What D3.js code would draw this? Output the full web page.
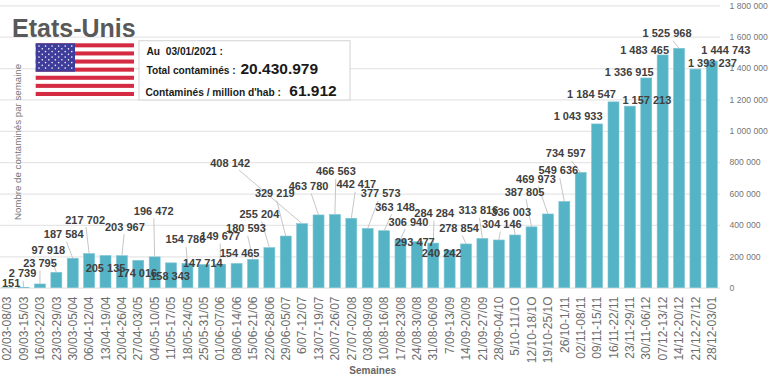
<!DOCTYPE html>
<html lang="fr">
<head>
    <meta charset="UTF-8">
    <title>Etats-Unis - contaminés par semaine</title>
    <script src="https://d3js.org/d3.v7.min.js"></script>
    <style>
        body { margin: 0; background: #fff; }
        svg { display: block; font-family: "Liberation Sans", Arial, sans-serif; }
        .grid line { stroke: #e6e6e6; stroke-width: 1.2; }
        .grid path { display: none; }
        .grid text { font-size: 8.6px; fill: #757575; }
        .xaxis path, .xaxis line { display: none; }
        .xaxis text { font-size: 12px; fill: #6e6e6e; }
        .bar { fill: #55b3c6; stroke: #7cc5d4; stroke-width: 0.6; }
        .leader { stroke: #bfbfbf; stroke-width: 0.9; fill: none; }
        .value { font-size: 11px; font-weight: bold; fill: #404040; text-anchor: middle; }
        .info { font-weight: bold; fill: #1a1a1a; }
    </style>
</head>
<body>
    <svg id="chart" width="768" height="378"></svg>
    <script>
        const weeks = ["02/03-08/03", "09/03-15/03", "16/03-22/03", "23/03-29/03", "30/03-05/04", "06/04-12/04",
            "13/04-19/04", "20/04-26/04", "27/04-03/05", "04/05-10/05", "11/05-17/05", "18/05-24/05", "25/05-31/05",
            "01/06-07/06", "08/06-14/06", "15/06-21/06", "22/06-28/06", "29/06-05/07", "6/07-12/07", "13/07-19/07",
            "20/07-26/07", "27/07-02/08", "03/08-09/08", "10/08-16/08", "17/08-23/08", "24/08-30/08", "31/08-06/09",
            "7/09-13/09", "14/09-20/09", "21/09-27/09", "28/09-04/10", "5/10-11/1O", "12/10-18/1O", "19/10-25/1O",
            "26/10-1/11", "02/11-08/11", "09/11-15/11", "16/11-22/11", "23/11-29/11", "30/11-06/12", "07/12-13/12",
            "14/12-20/12", "21/12-27/12", "28/12-03/01"];

        const cases = [151, 2739, 23795, 97918, 187584, 217702, 205135, 203967, 174016, 196472, 158343, 154786,
            147714, 149677, 154465, 180593, 255204, 329219, 408142, 463780, 466563, 442417, 377573, 363148, 306940,
            293477, 284284, 240242, 278854, 313816, 304146, 336003, 387805, 469973, 549636, 734597, 1043933, 1184547,
            1157213, 1336915, 1483465, 1525968, 1393237, 1444743];

        const yTicks = [0, 200000, 400000, 600000, 800000, 1000000, 1200000, 1400000, 1600000, 1800000];

        // hand placed data labels, offset from the top of each bar
        const labelOffsets = [[4, -5], [-1, -14], [0, -21], [-8, -22], [-9, -24], [-4, -34], [0, 13], [3, -29],
            [-1, 13], [-1, -46], [-1, 13], [-2, -24], [-1, -1], [0, -28], [3, -10], [-7, -31], [-10, -34], [-11, -43],
            [-72, -61], [-10, -29], [1, -43], [5, -34], [13, -35], [11, -24], [8, -18], [-2, 0], [1, -30], [-8, 3],
            [-7, -16], [-4, -28], [3, -16], [-4, -23], [-7, -35], [-12, -35], [-6, -31], [-15, -19], [-19, -8],
            [-22, -8], [17, -6], [-17, -6], [-18, -5], [-12, -15], [17, -6], [14, -11]];

        // bars whose label has a leader line
        const withLeader = [1, 2, 3, 4, 5, 7, 9, 11, 13, 15, 16, 17, 18, 19, 20, 21, 22, 23, 24, 26, 28, 29, 30, 31,
            32, 33, 34, 35, 41];

        const svg = d3.select("#chart");

        const x = d3.scaleBand().domain(weeks).range([-1, 720]).paddingInner(0.33).paddingOuter(0.165);
        const y = d3.scaleLinear().domain([0, 1800000]).range([287.7, 5.3]);
        const fmt = d => d3.format(",")(d).replace(/,/g, " ");

        // gridlines + right axis
        svg.append("g")
            .attr("class", "grid")
            .attr("transform", "translate(720,0)")
            .call(d3.axisRight(y).tickValues(yTicks).tickFormat(fmt).tickSize(-720).tickPadding(9.5));

        // x axis, labels rotated
        svg.append("g")
            .attr("class", "xaxis")
            .attr("transform", "translate(0,288)")
            .call(d3.axisBottom(x).tickSize(0))
            .selectAll("text")
            .attr("transform", "rotate(-90)")
            .attr("text-anchor", "end")
            .attr("x", -8.5)
            .attr("y", 0)
            .attr("dy", "0.35em");

        svg.selectAll(".bar")
            .data(weeks)
            .enter()
            .append("rect")
            .attr("class", "bar")
            .attr("x", d => x(d))
            .attr("y", (d, i) => y(cases[i]))
            .attr("width", x.bandwidth())
            .attr("height", (d, i) => y(0) - y(cases[i]));

        const cx = i => x(weeks[i]) + x.bandwidth() / 2;

        // leader goes from the edge of the label box to the bar top
        svg.selectAll(".leader")
            .data(withLeader)
            .enter()
            .append("line")
            .attr("class", "leader")
            .each(function(i) {
                const [dx, dy] = labelOffsets[i];
                const t = Math.min(dx ? 21 / Math.abs(dx) : 1, dy ? 7.5 / Math.abs(dy) : 1);
                d3.select(this)
                    .attr("x1", cx(i) + dx - dx * t)
                    .attr("x2", cx(i))
                    .attr("y1", y(cases[i]) + dy - dy * t)
                    .attr("y2", y(cases[i]));
            });

        svg.selectAll(".value")
            .data(cases)
            .enter()
            .append("text")
            .attr("class", "value")
            .attr("x", (d, i) => cx(i) + labelOffsets[i][0])
            .attr("y", (d, i) => y(d) + labelOffsets[i][1])
            .attr("dy", "0.36em")
            .text(fmt);

        // axis titles
        svg.append("text")
            .attr("transform", "translate(20.5,142) rotate(-90)")
            .attr("text-anchor", "middle")
            .attr("font-size", 9.7)
            .attr("fill", "#757575")
            .text("Nombre de contaminés par semaine");

        svg.append("text")
            .attr("x", 372.7)
            .attr("y", 373.5)
            .attr("text-anchor", "middle")
            .attr("font-size", 10)
            .attr("font-weight", "bold")
            .attr("fill", "#666")
            .text("Semaines");

        svg.append("text")
            .attr("x", 12)
            .attr("y", 37.3)
            .attr("font-size", 25)
            .attr("font-weight", "bold")
            .attr("fill", "#595959")
            .text("Etats-Unis");

        // flag
        const flag = svg.append("g").attr("transform", "translate(35.7,43.3)");
        const flagW = 98.3, flagH = 52.7, stripeH = flagH / 13;
        flag.append("rect").attr("width", flagW).attr("height", flagH).attr("fill", "#fff");
        flag.selectAll(".stripe")
            .data(d3.range(0, 13, 2))
            .enter()
            .append("rect")
            .attr("y", d => d * stripeH)
            .attr("width", flagW)
            .attr("height", stripeH)
            .attr("fill", "#d42a42");
        flag.append("rect").attr("width", 39.3).attr("height", stripeH * 7).attr("fill", "#3f3d9c");
        const stars = d3.range(9).flatMap(r => d3.range(r % 2 ? 5 : 6).map(c => [r, c]));
        flag.selectAll(".star")
            .data(stars)
            .enter()
            .append("circle")
            .attr("cx", d => 3.3 + d[1] * 6.55 + (d[0] % 2 ? 3.27 : 0))
            .attr("cy", d => 2.8 + d[0] * 2.75)
            .attr("r", 0.8)
            .attr("fill", "#f2f2fa");

        // info box
        svg.append("rect")
            .attr("x", 139)
            .attr("y", 40.7)
            .attr("width", 211)
            .attr("height", 59.3)
            .attr("fill", "#fff")
            .attr("stroke", "#d9d9d9")
            .attr("stroke-width", 1.2);

        const infoLines = [
            { x: 146.5, y: 55, size: 10.2, text: "Au  03/01/2021 :" },
            { x: 146.5, y: 74, size: 10.2, text: "Total contaminés :" },
            { x: 240.5, y: 74, size: 15.5, text: "20.430.979" },
            { x: 145.5, y: 95.7, size: 10.2, text: "Contaminés / million d'hab :" },
            { x: 289.3, y: 95.7, size: 15.5, text: "61.912" }
        ];
        svg.selectAll(".info")
            .data(infoLines)
            .enter()
            .append("text")
            .attr("class", "info")
            .style("white-space", "pre")
            .attr("x", d => d.x)
            .attr("y", d => d.y)
            .attr("font-size", d => d.size)
            .text(d => d.text);
    </script>
</body>
</html>
